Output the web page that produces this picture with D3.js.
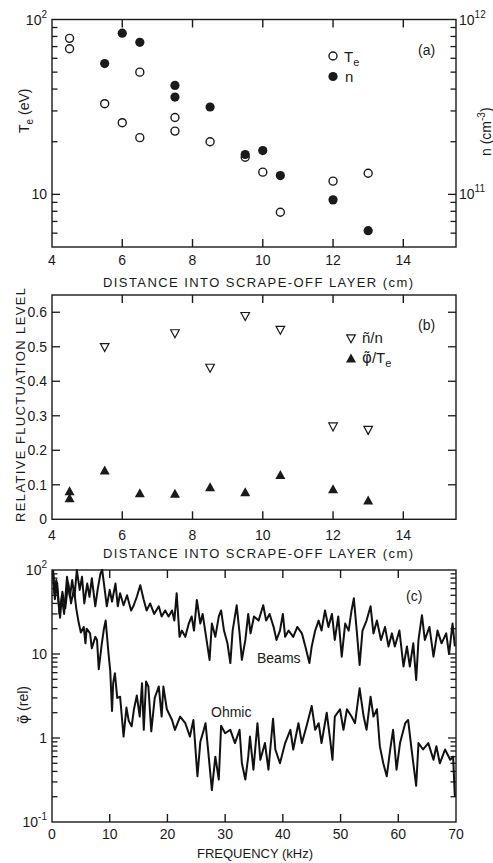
<!DOCTYPE html>
<html>
<head>
<meta charset="utf-8">
<script src="https://cdn.jsdelivr.net/npm/d3@7"></script>
<style>
    body { margin: 0; background: #fff; }
    svg text { font-family: "Liberation Sans", Arial, sans-serif; fill: #1a1a1a; }
    svg .phi { font-family: "DejaVu Sans", sans-serif; }
</style>
</head>
<body>
<div id="chart"></div>
<script>
// ---- panel (a): Te and n vs distance
const distTe = [4.5, 4.5, 5.5, 6, 6.5, 6.5, 7.5, 7.5, 8.5, 9.5, 10, 10.5, 12, 13];
const teValues = [78, 68, 33, 25.7, 50, 21.1, 27.5, 23, 20, 16.3, 13.4, 7.9, 11.9, 13.2];
const distN = [5.5, 6, 6.5, 7.5, 7.5, 8.5, 9.5, 10, 10.5, 12, 13];
const nValues = [5.6e11, 8.35e11, 7.4e11, 4.2e11, 3.6e11, 3.16e11, 1.69e11, 1.78e11, 1.28e11, 9.3e10, 6.2e10];

// ---- panel (b): relative fluctuation levels
const distFluct = [5.5, 7.5, 8.5, 9.5, 10.5, 12, 13];
const nFluct = [0.50, 0.54, 0.44, 0.59, 0.55, 0.27, 0.26];
const distPhi = [4.5, 4.5, 5.5, 6.5, 7.5, 8.5, 9.5, 10.5, 12, 13];
const phiFluct = [0.08, 0.06, 0.14, 0.074, 0.073, 0.092, 0.077, 0.127, 0.086, 0.053];

// ---- panel (c): potential spectra
const freqBeams = [0.2,0.4,0.75,1.2,1.4,1.7,2.1,2.6,3.1,3.5,
    3.9,4.3,4.8,5.2,5.6,6.1,6.5,6.9,7.5,7.9,
    8.4,8.7,9.1,9.5,10,10.4,11,11.4,11.8,12.4,
    13,13.7,14.1,14.7,15.3,15.9,16.4,17,17.7,18.5,
    19,19.6,20.2,20.8,21.2,21.6,22.1,22.5,23.1,23.7,
    24.2,24.6,25.1,25.7,26.1,26.7,27.3,27.7,28.3,28.9,
    29.3,29.8,30.4,30.9,31.3,32,32.5,32.9,33.5,34,
    34.4,35,35.8,36.6,37.1,37.7,38.4,38.9,39.5,40,
    40.4,41,41.8,42.5,43.3,43.9,44.6,45,45.6,46.2,
    46.7,47.3,47.9,48.5,49,49.6,50.2,50.8,51.4,51.9,
    52.3,52.8,53.3,53.8,54.5,55.2,55.7,56.3,57,57.7,
    58.3,58.9,59.4,60.2,60.9,61.5,62,62.6,63.1,63.5,
    64.1,64.6,65.4,66.1,66.8,67.5,68.3,68.8,69.4,69.8];
const beamsSpec = [100,53,76,37,27,48,30,83,48,76,
    48,100,58,83,40,69,48,80,37,58,
    91,100,61,37,58,42,69,37,53,38,
    50,33,37,48,66,44,33,40,30,37,
    28,33,28,33,25,53,16,19,16,23,
    28,19,44,23,30,16,8.5,23,16,28,
    33,19,13.4,7.8,19,38,17.6,8.5,14.7,30,
    17.6,28,25,38,25,30,21,14.7,19,30,
    16,19,16,21,17.6,12.3,7.8,12.3,19,25,
    19,33,21,30,14.7,28,9.3,23,19,33,
    46,19,7.4,19,25,37,17.6,25,14.7,21,
    12.3,17.6,12.3,19,7.1,12.3,7.1,13.4,4.9,14.7,
    29,14.7,21,9.3,19,13.4,17.6,10,23,12.3];

const freqOhmic = [0.2,0.5,0.9,1.3,1.8,2.3,2.8,3.3,3.8,4.2,
    4.6,5.0,5.5,5.8,6.0,6.6,6.9,7.5,7.8,8.1,
    8.6,9.0,9.3,9.8,10.1,10.4,10.6,10.9,11.3,11.8,
    12.4,12.9,13.3,13.8,14.2,14.7,15.2,15.6,15.9,16.3,
    16.7,17.2,17.8,18.5,19.0,19.3,19.9,20.8,21.3,22.2,
    23.1,23.9,24.5,25.2,25.7,26.3,26.6,27.1,27.7,28.3,
    28.9,29.3,30,30.9,31.7,32.5,32.9,33.5,34,34.3,
    34.9,35.6,36.1,36.9,37.5,38.3,38.7,39.5,40.4,41.3,
    41.8,42.7,43.3,44.1,45,45.6,46.2,46.7,47.6,48.2,
    48.6,49,49.9,50.5,51.1,51.9,52.5,53.3,54,54.5,
    55.2,55.7,56.3,56.8,57.4,58,58.6,59.1,59.7,60.3,
    61.2,61.7,62.3,63.1,63.5,64.3,65.2,66.1,66.6,67.2,
    68.1,69,69.5,69.8];
const ohmicSpec = [90,45,70,30,55,35,70,40,60,35,
    24,18,21,13.4,20,17.6,11.7,16,14.7,6.6,
    12.8,20,25,10,6.2,2.1,4.5,5.9,3.0,3.1,
    1.04,2.3,1.6,1.38,2.2,3.2,1.8,4.5,1.25,4.7,
    4.1,1.2,3.0,4.1,1.8,4.1,2.2,1.64,1.25,1.8,
    1.5,1.04,1.64,0.35,0.9,1.25,1.5,0.66,0.24,0.6,
    0.32,1.4,1.14,1.25,0.87,1.25,0.5,0.32,0.6,1.04,
    0.42,1.5,0.55,0.87,0.42,1.7,0.73,0.5,0.87,1.25,
    0.73,1.5,0.87,1.38,2.4,1.25,1.5,0.87,2.0,0.95,
    0.55,1.8,2.2,1.25,2.2,1.8,1.5,3.9,1.8,1.25,
    3.1,1.8,2.2,0.8,0.5,0.35,0.73,1.25,0.42,0.87,
    1.5,1.64,0.73,0.27,0.87,0.73,0.87,0.55,0.8,0.5,
    0.73,0.55,0.6,0.2];

// ---- tick labels
const distTicks = [4, 6, 8, 10, 12, 14];
const fluctTicks = [0, 0.1, 0.2, 0.3, 0.4, 0.5, 0.6];
const freqTicks = [0, 10, 20, 30, 40, 50, 60, 70];

const width = 493, height = 863;
const left = 52, right = 456;
const ink = "#1a1a1a";

const svg = d3.select("#chart").append("svg")
    .attr("width", width)
    .attr("height", height);

// scales
const xA = d3.scaleLinear().domain([4, 15.5]).range([left, right]);
const yTe = d3.scaleLog().domain([5, 100]).range([247, 19.5]);
const yN = d3.scaleLog().domain([5e10, 1e12]).range([247, 19.5]);
const xB = d3.scaleLinear().domain([4, 15.5]).range([left, right]);
const yB = d3.scaleLinear().domain([0, 0.65]).range([519.3, 295]);
const xC = d3.scaleLinear().domain([0, 70]).range([left, right]);
const yC = d3.scaleLog().domain([0.1, 100]).range([822, 570]);

// helpers
function frame(x, y) {
    svg.append("rect")
        .attr("x", x.range()[0]).attr("y", y.range()[1])
        .attr("width", x.range()[1] - x.range()[0])
        .attr("height", y.range()[0] - y.range()[1])
        .attr("fill", "none").attr("stroke", ink).attr("stroke-width", 1.4);
}

// inward ticks on top and bottom
function xTicks(x, y, vals) {
    const inner = vals.filter(v => v > x.domain()[0] && v < x.domain()[1]);
    const g = svg.append("g").attr("stroke", ink).attr("stroke-width", 1.4);
    g.selectAll(".tb").data(inner).join("line")
        .attr("x1", d => x(d)).attr("x2", d => x(d))
        .attr("y1", y.range()[0]).attr("y2", y.range()[0] - 8);
    g.selectAll(".tt").data(inner).join("line")
        .attr("x1", d => x(d)).attr("x2", d => x(d))
        .attr("y1", y.range()[1]).attr("y2", y.range()[1] + 8);
}

// inward ticks on left/right; major = decades for log scales
function yTicks(y, vals, isMajor, side) {
    const x0 = side === "left" ? left : right;
    const dir = side === "left" ? 1 : -1;
    const inner = vals.filter(v => y(v) > y.range()[1] + 0.5 && y(v) < y.range()[0] - 0.5);
    svg.append("g").attr("stroke", ink).attr("stroke-width", 1.3)
        .selectAll("line").data(inner).join("line")
        .attr("x1", x0).attr("x2", d => x0 + dir * (isMajor(d) ? 8 : 5.5))
        .attr("y1", d => y(d)).attr("y2", d => y(d));
}

const isDecade = d => Math.abs(Math.log10(d) - Math.round(Math.log10(d))) < 1e-6;

function powLabel(x, y, base, exp, anchor) {
    const t = svg.append("text").attr("x", x).attr("y", y)
        .attr("font-size", 14).attr("text-anchor", anchor);
    t.append("tspan").text(base);
    if (exp !== null) t.append("tspan").attr("font-size", 10).attr("dy", -7).text(exp);
    return t;
}

function xTickLabels(x, vals, baseline) {
    svg.append("g").selectAll("text").data(vals).join("text")
        .attr("x", d => x(d)).attr("y", baseline)
        .attr("text-anchor", "middle").attr("font-size", 14)
        .text(d => d);
}

function xTitle(text, cx, baseline, len) {
    svg.append("text").attr("x", cx).attr("y", baseline)
        .attr("text-anchor", "middle").attr("font-size", 13)
        .attr("textLength", len).attr("lengthAdjust", "spacing")
        .text(text);
}

function triPath(up, half, h) {
    return up ? `M0,${-h * 0.6}L${half},${h * 0.4}L${-half},${h * 0.4}Z`
              : `M0,${h * 0.6}L${half},${-h * 0.4}L${-half},${-h * 0.4}Z`;
}

// ================= panel (a) =================
frame(xA, yTe);
xTicks(xA, yTe, distTicks);
yTicks(yTe, yTe.ticks(), isDecade, "left");
yTicks(yN, yN.ticks(), isDecade, "right");
xTickLabels(xA, distTicks, 265);
powLabel(47, yTe(100) + 5, "10", "2", "end");
powLabel(47, yTe(10) + 5, "10", null, "end");
powLabel(459, yN(1e12) + 5, "10", "12", "start");
powLabel(459, yN(1e11) + 5, "10", "11", "start");
xTitle("DISTANCE INTO SCRAPE-OFF LAYER (cm)", 258, 287, 310);

svg.append("text").attr("transform", "translate(29,133) rotate(-90)")
    .attr("font-size", 14)
    .call(t => {
        t.append("tspan").text("T");
        t.append("tspan").attr("font-size", 10).attr("dy", 4).text("e");
        t.append("tspan").attr("dy", -4).text(" (eV)");
    });
svg.append("text").attr("transform", "translate(491,156) rotate(-90)")
    .attr("font-size", 14)
    .call(t => {
        t.append("tspan").text("n (cm");
        t.append("tspan").attr("font-size", 10).attr("dy", -6).text("-3");
        t.append("tspan").attr("dy", 6).text(")");
    });

svg.append("g").selectAll("circle").data(distTe.map((d, i) => [d, teValues[i]])).join("circle")
    .attr("cx", d => xA(d[0])).attr("cy", d => yTe(d[1])).attr("r", 4)
    .attr("fill", "#fff").attr("stroke", ink).attr("stroke-width", 1.4);
svg.append("g").selectAll("circle").data(distN.map((d, i) => [d, nValues[i]])).join("circle")
    .attr("cx", d => xA(d[0])).attr("cy", d => yN(d[1])).attr("r", 4.6)
    .attr("fill", ink);

// legend (a)
svg.append("circle").attr("cx", 333).attr("cy", 56).attr("r", 4)
    .attr("fill", "#fff").attr("stroke", ink).attr("stroke-width", 1.4);
svg.append("circle").attr("cx", 333).attr("cy", 76.5).attr("r", 4.6).attr("fill", ink);
svg.append("text").attr("x", 344).attr("y", 62).attr("font-size", 15)
    .call(t => {
        t.append("tspan").text("T");
        t.append("tspan").attr("font-size", 11).attr("dy", 4).text("e");
    });
svg.append("text").attr("x", 345).attr("y", 82).attr("font-size", 15).text("n");
svg.append("text").attr("x", 418).attr("y", 55).attr("font-size", 14).text("(a)");

// ================= panel (b) =================
frame(xB, yB);
xTicks(xB, yB, distTicks);
yTicks(yB, fluctTicks, () => true, "left");
yTicks(yB, fluctTicks, () => true, "right");
xTickLabels(xB, distTicks, 540);
svg.append("g").selectAll("text").data(fluctTicks).join("text")
    .attr("x", 47).attr("y", d => yB(d) + 5)
    .attr("text-anchor", "end").attr("font-size", 14)
    .text(d => d === 0 ? "0" : d.toFixed(1));
xTitle("DISTANCE INTO SCRAPE-OFF LAYER (cm)", 258, 558, 310);
svg.append("text").attr("transform", "translate(25,405) rotate(-90)")
    .attr("text-anchor", "middle").attr("font-size", 13)
    .attr("textLength", 234).attr("lengthAdjust", "spacing")
    .text("RELATIVE FLUCTUATION LEVEL");

svg.append("g").selectAll("path").data(distFluct.map((d, i) => [d, nFluct[i]])).join("path")
    .attr("transform", d => `translate(${xB(d[0])},${yB(d[1])})`)
    .attr("d", triPath(false, 4.3, 8))
    .attr("fill", "#fff").attr("stroke", ink).attr("stroke-width", 1.2);
svg.append("g").selectAll("path").data(distPhi.map((d, i) => [d, phiFluct[i]])).join("path")
    .attr("transform", d => `translate(${xB(d[0])},${yB(d[1])})`)
    .attr("d", triPath(true, 5, 9))
    .attr("fill", ink);

// legend (b)
svg.append("path").attr("transform", "translate(351,338)")
    .attr("d", triPath(false, 4.3, 8))
    .attr("fill", "#fff").attr("stroke", ink).attr("stroke-width", 1.2);
svg.append("path").attr("transform", "translate(351,359)")
    .attr("d", triPath(true, 5, 9)).attr("fill", ink);
svg.append("text").attr("x", 362).attr("y", 343).attr("font-size", 15).text("\u00f1/n");
svg.append("text").attr("x", 362).attr("y", 363).attr("font-size", 15)
    .call(t => {
        t.append("tspan").attr("class", "phi").text("\u03c6\u0303");
        t.append("tspan").text("/T");
        t.append("tspan").attr("font-size", 11).attr("dy", 4).text("e");
    });
svg.append("text").attr("x", 418).attr("y", 330).attr("font-size", 14).text("(b)");

// ================= panel (c) =================
frame(xC, yC);
xTicks(xC, yC, freqTicks);
yTicks(yC, yC.ticks(), isDecade, "left");
yTicks(yC, yC.ticks(), isDecade, "right");
xTickLabels(xC, freqTicks, 839);
powLabel(47, yC(100) + 5, "10", "2", "end");
powLabel(47, yC(10) + 5, "10", null, "end");
powLabel(47, yC(1) + 5, "1", null, "end");
powLabel(47, yC(0.1) + 5, "10", "-1", "end");
xTitle("FREQUENCY (kHz)", 255, 858, 116);
svg.append("text").attr("transform", "translate(28,705) rotate(-90)")
    .attr("text-anchor", "middle").attr("font-size", 14)
    .call(t => {
        t.append("tspan").attr("class", "phi").text("\u03c6\u0303");
        t.append("tspan").text(" (rel)");
    });

const specLine = d3.line()
    .x(d => xC(d[0]))
    .y(d => yC(d[1]));

svg.append("path")
    .datum(freqOhmic.map((d, i) => [d, ohmicSpec[i]]))
    .attr("d", specLine)
    .attr("fill", "none").attr("stroke", "#111").attr("stroke-width", 2)
    .attr("stroke-linejoin", "round");
svg.append("path")
    .datum(freqBeams.map((d, i) => [d, beamsSpec[i]]))
    .attr("d", specLine)
    .attr("fill", "none").attr("stroke", "#111").attr("stroke-width", 2)
    .attr("stroke-linejoin", "round");

svg.append("text").attr("x", 257).attr("y", 663).attr("font-size", 14).text("Beams");
svg.append("text").attr("x", 211).attr("y", 717).attr("font-size", 14).text("Ohmic");
svg.append("text").attr("x", 406).attr("y", 601).attr("font-size", 14).text("(c)");
</script>
</body>
</html>
